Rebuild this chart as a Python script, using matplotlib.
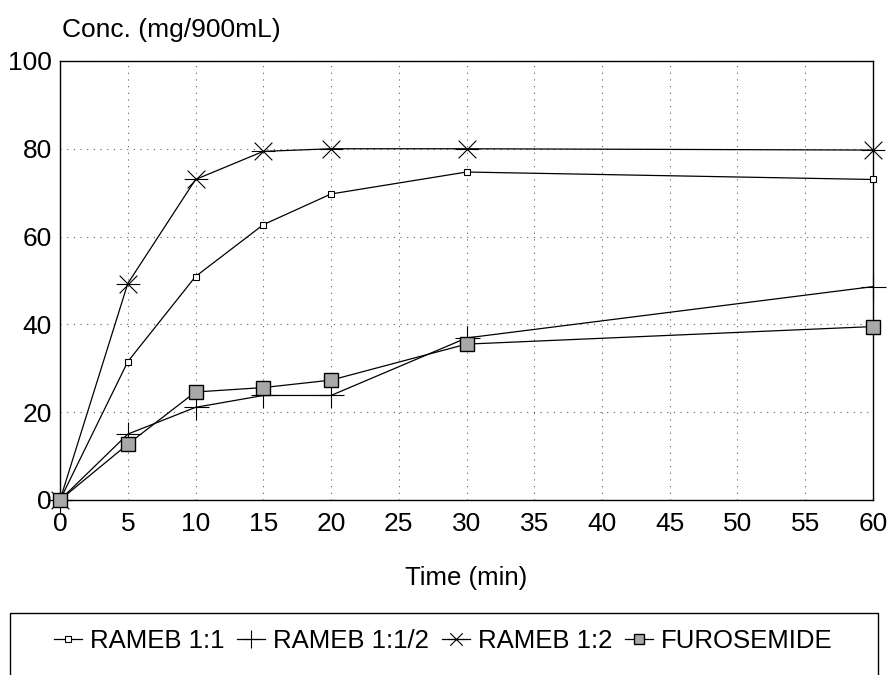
import numpy as np
import matplotlib
matplotlib.use("Agg")
import matplotlib.pyplot as plt
from matplotlib.path import Path
from matplotlib.patches import Rectangle
from matplotlib.lines import Line2D

plt.rcParams['font.family'] = ['Liberation Sans', 'DejaVu Sans']

# Data
time_min = [0, 5, 10, 15, 20, 30, 60]
rameb_1_1 = [0, 31.5, 50.9, 62.7, 69.7, 74.7, 73.0]
rameb_1_half = [0, 15.0, 21.1, 23.8, 23.8, 36.9, 48.6]
rameb_1_2 = [0, 49.3, 73.0, 79.4, 80.0, 80.0, 79.7]
furosemide = [0, 12.7, 24.6, 25.6, 27.3, 35.5, 39.5]

x_ticks = list(range(0, 65, 5))
y_ticks = [0, 20, 40, 60, 80, 100]
series_names = ["RAMEB 1:1", "RAMEB 1:1/2", "RAMEB 1:2", "FUROSEMIDE"]

# Star marker: horizontal bar plus an X
star_path = Path(
    [(-1, 0), (1, 0), (-0.75, -0.75), (0.75, 0.75), (-0.75, 0.75), (0.75, -0.75)],
    [Path.MOVETO, Path.LINETO, Path.MOVETO, Path.LINETO, Path.MOVETO, Path.LINETO],
)

styles = [
    dict(marker='s', markersize=4.5, markerfacecolor='white', markeredgecolor='black', markeredgewidth=0.8),
    dict(marker='+', markersize=18, markeredgecolor='black', markeredgewidth=0.8),
    dict(marker=star_path, markersize=17, markeredgecolor='black', markeredgewidth=0.8),
    dict(marker='s', markersize=10, markerfacecolor='#a8a8a8', markeredgecolor='black', markeredgewidth=1.0),
]

figure_1 = plt.figure(figsize=(8.88, 6.75), dpi=100)
axis_1 = figure_1.add_axes([0.0676, 0.2593, 0.9155, 0.6504])

all_series = [rameb_1_1, rameb_1_half, rameb_1_2, furosemide]
for values, style in zip(all_series, styles):
    axis_1.plot(time_min, values, color='black', linewidth=0.9, clip_on=False, zorder=3, **style)

axis_1.set_xlim(0, 60)
axis_1.set_ylim(0, 100)
axis_1.set_xticks(x_ticks)
axis_1.set_yticks(y_ticks)
axis_1.tick_params(axis='both', length=0, labelsize=19)
axis_1.tick_params(axis='x', pad=9)
axis_1.tick_params(axis='y', pad=6)

axis_1.grid(True, color='0.35', linestyle=(0, (1, 5)), linewidth=0.8)
for spine in axis_1.spines.values():
    spine.set_linewidth(1.0)
    spine.set_color('black')

# Axis titles
figure_1.text(62 / 888, 1 - 30 / 675, "Conc. (mg/900mL)", fontsize=19, va='center', ha='left')
figure_1.text(466 / 888, 1 - 578 / 675, "Time (min)", fontsize=18.5, va='center', ha='center')

# Legend box running off the bottom of the figure
legend_box = Rectangle((10 / 888, -0.05), 868 / 888, 0.05 + 62 / 675, transform=figure_1.transFigure,
                       fill=False, edgecolor='black', linewidth=1.0, clip_on=False)
figure_1.add_artist(legend_box)

handles = [Line2D([0], [0], color='black', linewidth=0.9, **style) for style in styles]
handles[1].set_markersize(13)
handles[2].set_markersize(12)
handles[3].set_markersize(7)
figure_1.legend(handles, series_names, loc='center', bbox_to_anchor=(443 / 888, 1 - 641 / 675),
                ncol=4, frameon=False, fontsize=18.5, handlelength=1.1, handletextpad=0.3,
                columnspacing=0.5)

plt.savefig("out.png", dpi=100)
